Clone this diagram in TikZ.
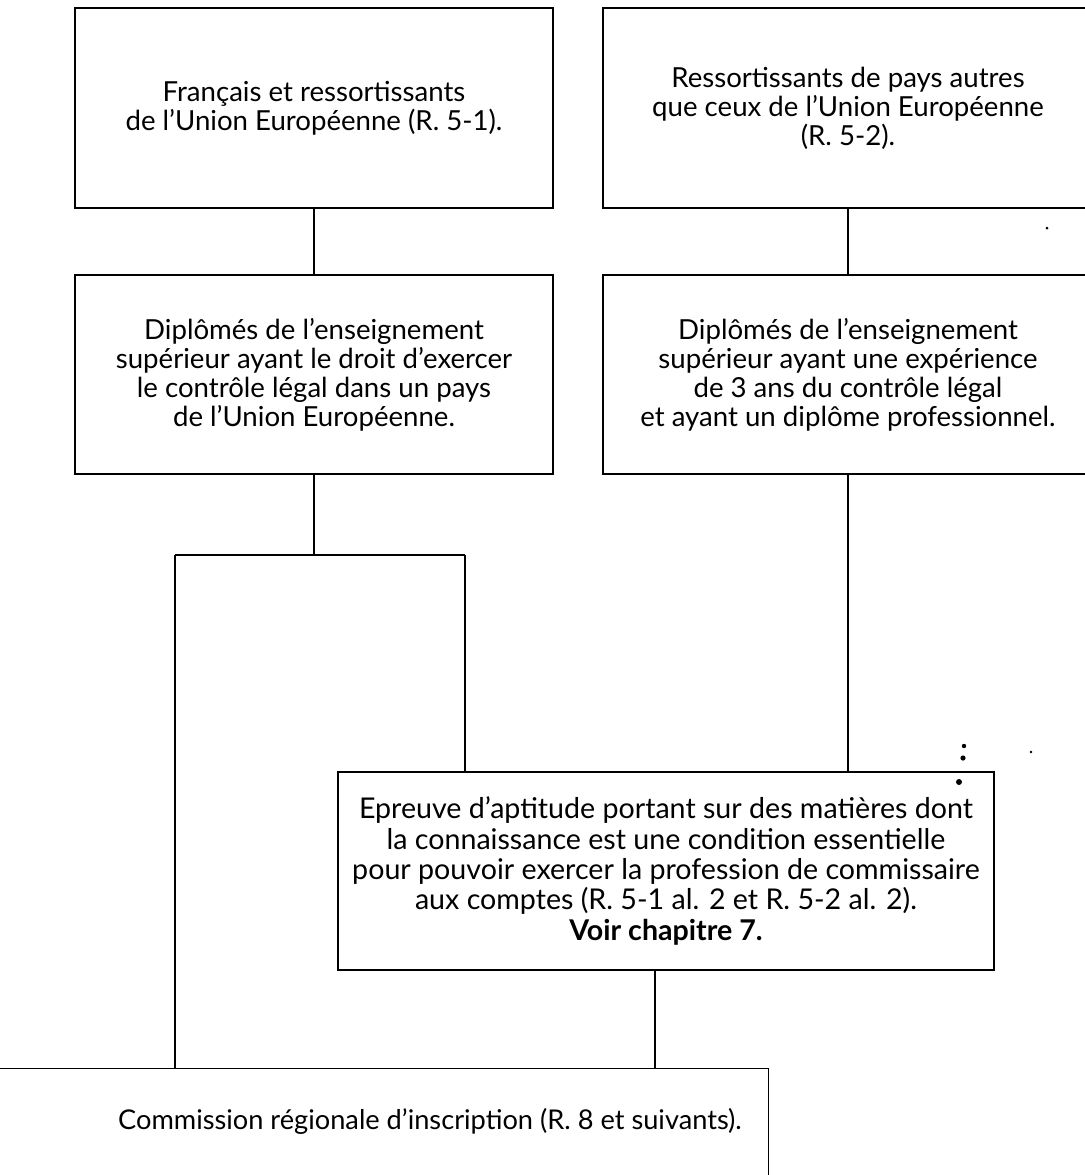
\documentclass[tikz,border=0pt]{standalone}
\usepackage{fontspec}
\setmainfont{Lato}
\begin{document}
\begin{tikzpicture}[x=0.5pt,y=-0.5pt,
  box/.style={draw, line width=0.6pt, inner sep=0pt, align=center, font=\fontsize{13.8}{14.5}\selectfont},
  conn/.style={line width=0.6pt},
  speck/.style={fill=black}]
\useasboundingbox (0,0) rectangle (1084,1175);
\node[box, minimum width=239pt, minimum height=100pt] (b1) at (314,108)
  {Français et ressortissants\\de l’Union Européenne (R. 5-1).};
\node[box, minimum width=245pt, minimum height=100pt] (b2) at (848,108)
  {Ressortissants de pays autres\\que ceux de l’Union Européenne\\(R. 5-2).};
\node[box, minimum width=239pt, minimum height=99.5pt] (b3) at (314,374.5)
  {Diplômés de l’enseignement\\supérieur ayant le droit d’exercer\\le contrôle légal dans un pays\\de l’Union Européenne.};
\node[box, minimum width=245pt, minimum height=99.5pt] (b4) at (848,374.5)
  {Diplômés de l’enseignement\\supérieur ayant une expérience\\de 3 ans du contrôle légal\\et ayant un diplôme professionnel.};
\node[box, minimum width=328pt, minimum height=99pt, font=\fontsize{14.3}{15.2}\selectfont] (ep) at (666,871)
  {Epreuve d’aptitude portant sur des matières dont\\la connaissance est une condition essentielle\\pour pouvoir exercer la profession de commissaire\\aux comptes (R. 5-1 al. 2 et R. 5-2 al. 2).\\\textbf{Voir chapitre 7.}};
\node[draw, line width=0.6pt, inner sep=0pt, minimum width=400pt, minimum height=70pt, anchor=north east] (cm) at (769,1068) {};
\node[font=\fontsize{13.6}{14.5}\selectfont, inner sep=0pt] (cmt) at (430,1121)
  {Commission régionale d’inscription (R. 8 et suivants).};
% connectors
\coordinate (j) at (314,555);
\coordinate (jl) at (175,555);
\coordinate (jr) at (465,555);
\coordinate (ec) at (655,0);
\draw[conn] (b1) -- (b3);
\draw[conn] (b2) -- (b4);
\draw[conn] (b3) -- (j);
\draw[conn] (jl) -- (jr);
\draw[conn] (jl) -- (jl |- cm.north);
\draw[conn] (jr) -- (jr |- ep.north);
\draw[conn] (b4.south) -- (b4.south |- ep.north);
\draw[conn] (ec |- ep.south) -- (ec |- cm.north);
% scan specks
\fill[speck] (964,746) circle (2.2);
\fill[speck] (963,758) circle (2.6);
\fill[speck] (959,782) circle (3);
\fill[speck] (1031,752) circle (1.3);
\fill[speck] (1047,228) circle (1.5);
\end{tikzpicture}
\end{document}
